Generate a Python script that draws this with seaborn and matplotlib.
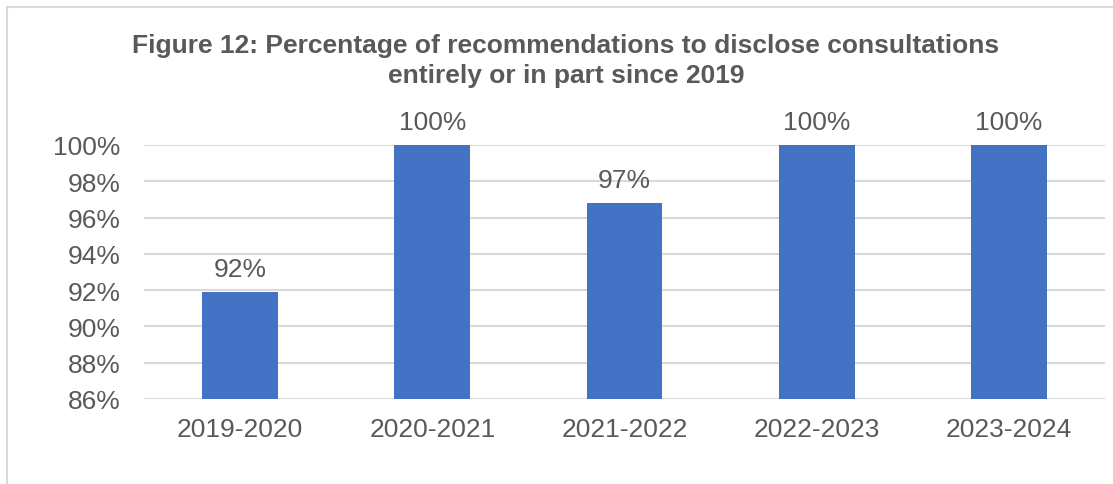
import matplotlib
matplotlib.use("Agg")
import matplotlib.pyplot as plt
import seaborn as sns
import pandas as pd
from matplotlib.patches import Rectangle
from matplotlib.ticker import FuncFormatter, MultipleLocator

periods = ["2019-2020", "2020-2021", "2021-2022", "2022-2023", "2023-2024"]
percentages = [91.9, 100.0, 96.8, 100.0, 100.0]
title_text = "Figure 12: Percentage of recommendations to disclose consultations\nentirely or in part since 2019"

sns.set_style("white")
plt.rcParams["font.family"] = ["Liberation Sans", "DejaVu Sans"]

TXT = "#595959"
GRID = "#D9D9D9"
BLUE = "#4472C4"

df = pd.DataFrame({"period": periods, "pct": percentages})

fig = plt.figure(figsize=(11.13, 4.85), dpi=100)
ax = fig.add_axes([144/1113, 1-400/485, (1105-144)/1113, (400-146)/485])

sns.barplot(data=df, x="period", y="pct", order=periods, color=BLUE,
            saturation=1, width=0.395, ax=ax, linewidth=0)

ax.set_ylim(86, 100)
ax.yaxis.set_major_locator(MultipleLocator(2))
ax.yaxis.set_major_formatter(FuncFormatter(lambda v, p: f"{v:.0f}%"))
ax.set_xlim(-0.5, len(periods) - 0.5)
ax.grid(axis="y", color=GRID, linewidth=1.5)
ax.set_axisbelow(True)
for s in ax.spines.values():
    s.set_visible(False)
ax.set_xlabel("")
ax.set_ylabel("")
ax.tick_params(axis="y", length=0, pad=17, labelsize=19, labelcolor=TXT)
ax.tick_params(axis="x", length=0, pad=13, labelsize=19, labelcolor=TXT)

for i, v in enumerate(percentages):
    ax.annotate(f"{v:.0f}%", xy=(i, v), xytext=(0, 8), textcoords="offset points",
                ha="center", va="bottom", fontsize=19, color=TXT,
                annotation_clip=False)

fig.text(566/1113, 1-61/485, title_text, ha="center", va="center",
         fontsize=19, fontweight="bold", color=TXT, linespacing=1.35)

fig.patches.append(Rectangle((6.5/1113, -0.2), 1.2, 1.2 - 7.5/485,
                             transform=fig.transFigure, fill=False,
                             edgecolor=GRID, linewidth=1.5))

fig.savefig("out.png", dpi=100)
